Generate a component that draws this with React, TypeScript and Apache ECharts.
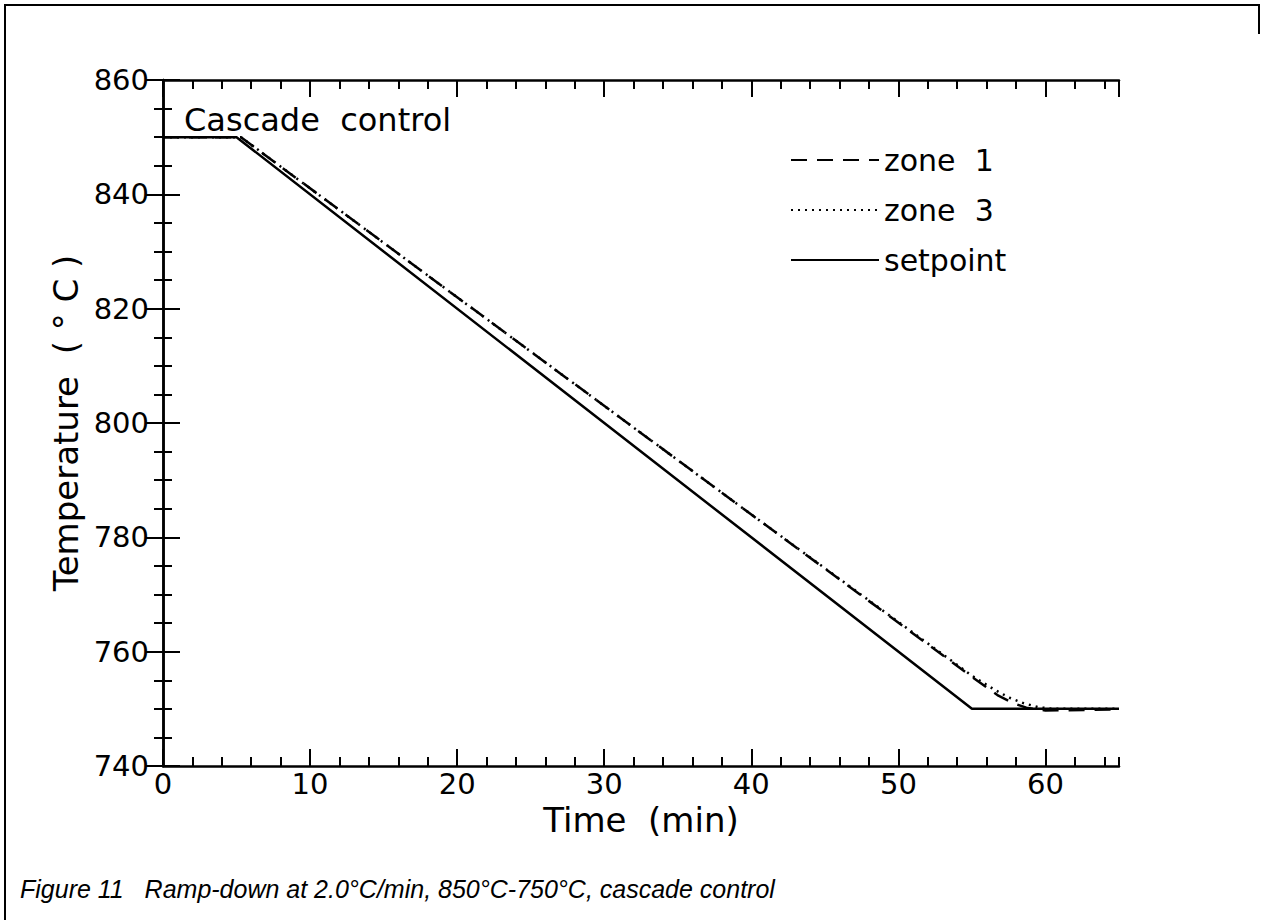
import React, { useEffect, useRef } from "react";
import * as echarts from "echarts";

// ---- data ----
const timeRange = [0, 65];
const tempRange = [740, 860];
const seriesNames = ["zone  1", "zone  3", "setpoint"];
const zone1Data = [
  [0, 850], [5.3, 850], [20, 822], [40, 784], [55, 755.6], [56.8, 752.3],
  [57.8, 751.0], [58.7, 750.2], [60, 749.7], [65, 749.9],
];
const zone3Data = [
  [0, 850], [5.3, 850], [20, 822], [40, 784], [55, 755.8], [56.5, 753.4],
  [57.5, 752.0], [58.5, 751.0], [59.5, 750.3], [60.5, 750.0], [65, 750.0],
];
const setpointData = [[0, 850], [5, 850], [55, 750], [65, 750]];
const annotationText = "Cascade  control";
const xAxisTitle = "Time  (min)";
const yAxisTitle = "Temperature  ( ° C )";
const captionText = "Figure 11   Ramp-down at 2.0°C/min, 850°C-750°C, cascade control";

const FONT = "'DejaVu Sans', sans-serif";
const BLACK = "#000";

export default function App() {
  const ref = useRef<HTMLDivElement>(null);
  useEffect(() => {
    if (!ref.current) return;
    const chart = echarts.init(ref.current, undefined, { renderer: "svg" });
    const lineW = 2.5;
    const xBase = {
      type: "value",
      min: timeRange[0],
      max: timeRange[1],
      splitLine: { show: false },
    };
    const yBase = {
      type: "value",
      min: tempRange[0],
      max: tempRange[1],
      splitLine: { show: false },
    };
    const axisLineOn = { show: true, lineStyle: { color: BLACK, width: lineW } };
    const minorTick = { show: true, inside: true, length: 9, lineStyle: { color: BLACK, width: 2 } };
    const majorTick = { show: true, inside: true, length: 17, lineStyle: { color: BLACK, width: 2 } };
    const labelStyle = { color: BLACK, fontFamily: FONT, fontSize: 29 };

    chart.setOption({
      animation: false,
      backgroundColor: "#fff",
      grid: { left: 163, top: 80, right: 142, bottom: 154, containLabel: false },
      legend: {
        orient: "vertical",
        left: 785,
        top: 140,
        itemWidth: 88,
        itemHeight: 14,
        itemGap: 20,
        data: seriesNames,
        itemStyle: { opacity: 0, color: "rgba(0,0,0,0)", borderWidth: 0 },
        textStyle: { color: BLACK, fontFamily: FONT, fontSize: 30 },
        inactiveColor: "#999",
      },
      xAxis: [
        { ...xBase, position: "bottom", interval: 2, axisLine: axisLineOn, axisTick: minorTick, axisLabel: { show: false } },
        {
          ...xBase, position: "bottom", interval: 10, axisLine: { show: false }, axisTick: majorTick,
          axisLabel: {
            ...labelStyle, margin: 3, showMaxLabel: false,
            formatter: (v: number) => (v % 10 === 0 ? String(v) : ""),
          },
          name: xAxisTitle, nameLocation: "middle", nameGap: 34,
          nameTextStyle: { color: BLACK, fontFamily: FONT, fontSize: 34 },
        },
        { ...xBase, position: "top", interval: 2, axisLine: axisLineOn, axisTick: minorTick, axisLabel: { show: false } },
        { ...xBase, position: "top", interval: 10, axisLine: { show: false }, axisTick: majorTick, axisLabel: { show: false } },
      ],
      yAxis: [
        { ...yBase, position: "left", interval: 5, axisLine: axisLineOn, axisTick: minorTick, axisLabel: { show: false } },
        {
          ...yBase, position: "left", interval: 20, axisLine: { show: false }, axisTick: majorTick,
          axisLabel: { ...labelStyle, margin: 14 },
          name: yAxisTitle, nameLocation: "middle", nameGap: 70,
          nameTextStyle: { color: BLACK, fontFamily: FONT, fontSize: 34 },
        },
        { ...yBase, position: "right", interval: 5, axisLine: axisLineOn, axisTick: minorTick, axisLabel: { show: false } },
        { ...yBase, position: "right", interval: 20, axisLine: { show: false }, axisTick: majorTick, axisLabel: { show: false } },
      ],
      series: [
        {
          name: seriesNames[0], type: "line", data: zone1Data, xAxisIndex: 0, yAxisIndex: 0,
          symbol: "none", showSymbol: false, z: 2, color: BLACK,
          lineStyle: { color: BLACK, width: 2.5, type: [16, 10] },
        },
        {
          name: seriesNames[1], type: "line", data: zone3Data, xAxisIndex: 0, yAxisIndex: 0,
          symbol: "none", showSymbol: false, z: 3, color: BLACK,
          lineStyle: { color: BLACK, width: 2.5, type: [2, 5] },
        },
        {
          name: seriesNames[2], type: "line", data: setpointData, xAxisIndex: 0, yAxisIndex: 0,
          symbol: "none", showSymbol: false, z: 4, color: BLACK,
          lineStyle: { color: BLACK, width: 2.5, type: "solid" },
        },
      ],
      graphic: [
        {
          type: "polyline",
          shape: { points: [[1259, 34], [1259, 5], [5, 5], [5, 920]] },
          style: { stroke: BLACK, lineWidth: 2, fill: "none" },
          silent: true,
        },
        {
          type: "text",
          x: 184,
          y: 104,
          style: { text: annotationText, fill: BLACK, font: `32px ${FONT}`, verticalAlign: "top" },
          silent: true,
        },
        {
          type: "text",
          x: 20,
          y: 876,
          style: {
            text: captionText, fill: BLACK,
            font: `italic 25px 'Liberation Sans', Arial, sans-serif`, verticalAlign: "top",
          },
          silent: true,
        },
      ],
    });
    return () => chart.dispose();
  }, []);
  return (
    <div
      ref={ref}
      style={{ position: "absolute", left: 0, top: 0, width: 1261, height: 920, background: "#fff" }}
    />
  );
}
